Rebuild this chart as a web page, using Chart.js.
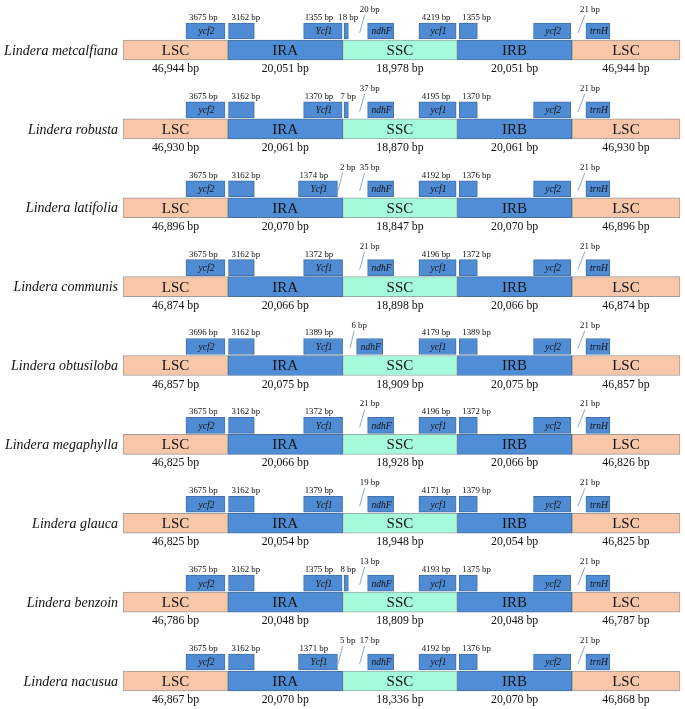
<!DOCTYPE html>
<html>
<head>
<meta charset="utf-8">
<script src="https://cdn.jsdelivr.net/npm/chart.js@4.4.1/dist/chart.umd.min.js"></script>
<style>
  html, body { margin: 0; padding: 0; background: #fff; }
  #wrap { width: 685px; height: 709px; }
</style>
</head>
<body>
<div id="wrap"><canvas id="irChart" width="685" height="709"></canvas></div>
<script>
// species, top to bottom
const species = ["Lindera metcalfiana", "Lindera robusta", "Lindera latifolia", "Lindera communis",
  "Lindera obtusiloba", "Lindera megaphylla", "Lindera glauca", "Lindera benzoin", "Lindera nacusua"];
const regionNames = ["LSC", "IRA", "SSC", "IRB", "LSC"];

// region lengths (bp)
const lscA = [46944, 46930, 46896, 46874, 46857, 46825, 46825, 46786, 46867];
const ira  = [20051, 20061, 20070, 20066, 20075, 20066, 20054, 20048, 20070];
const ssc  = [18978, 18870, 18847, 18898, 18909, 18928, 18948, 18809, 18336];
const irb  = [20051, 20061, 20070, 20066, 20075, 20066, 20054, 20048, 20070];
const lscB = [46944, 46930, 46896, 46874, 46857, 46826, 46825, 46787, 46868];

// genes at the junctions (bp)
const ycf2InLsc   = [3675, 3675, 3675, 3675, 3696, 3675, 3675, 3675, 3675];
const ycf2InIra   = [3162, 3162, 3162, 3162, 3162, 3162, 3162, 3162, 3162];
const ycf1InIra   = [1355, 1370, 1374, 1372, 1389, 1372, 1379, 1375, 1371];
const ycf1IntoSsc = [18, 7, 0, 0, 0, 0, 0, 8, 0];   // ycf1 running over into SSC
const ycf1GapSsc  = [0, 0, 2, 0, 0, 0, 0, 0, 5];    // ycf1 stopping short of SSC
const ndhFGap     = [20, 37, 35, 21, 6, 21, 19, 13, 17];
const ycf1InSsc   = [4219, 4195, 4192, 4196, 4179, 4196, 4171, 4193, 4192];
const ycf1InIrb   = [1355, 1370, 1376, 1372, 1389, 1372, 1379, 1375, 1376];
const trnHGap     = [21, 21, 21, 21, 21, 21, 21, 21, 21];

const regionLengths = [lscA, ira, ssc, irb, lscB];

// schematic layout, x in "region units" (one region = one unit)
const LAYOUT = {
  lscLeft: 0.085, lscRight: 4.942,
  ycf2Lsc: [0.634, 0.974], ycf2Ira: [1.005, 1.23],
  ycf1IraWidth: 0.34, ycf1GapEnd: 1.955, spill: [2.012, 2.05],
  ndhF: [2.218, 2.445], ndhFNear: [2.122, 2.35],
  ycf1Ssc: [2.665, 2.99], ycf1Irb: [3.017, 3.175],
  ycf2Irb: [3.665, 3.99], trnH: [4.122, 4.331]
};
const GENE_Y = 0.241; // gene boxes sit above the junction bar (y units)

const regionFill = { LSC: "#F8C6A8", IRA: "#4F8ED7", SSC: "#A6FADC", IRB: "#4F8ED7" };
const regionEdge = { LSC: "#A09C9A", IRA: "#4A6E9C", SSC: "#98AFA8", IRB: "#4A6E9C" };
const SERIF = "'Liberation Serif', 'Times New Roman', serif";

const rows = species.map((_, i) => i);
const regionStarts = [LAYOUT.lscLeft, 1, 2, 3, 4];
const regionEnds = [1, 2, 3, 4, LAYOUT.lscRight];

const regionDatasets = regionNames.map((name, k) => ({
  label: name,
  data: rows.map(i => ({ x: [regionStarts[k], regionEnds[k]], y: i, row: i })),
  backgroundColor: regionFill[name],
  borderColor: regionEdge[name],
  borderWidth: 1,
  borderSkipped: false,
  barThickness: 20
}));

function ycf1Span(i) {
  if (ycf1GapSsc[i] > 0) return [LAYOUT.ycf1GapEnd - LAYOUT.ycf1IraWidth, LAYOUT.ycf1GapEnd];
  if (ycf1IntoSsc[i] > 0) return [2 - LAYOUT.ycf1IraWidth, 1.995];
  return [2 - LAYOUT.ycf1IraWidth, 2];
}

const genes = [
  { name: "ycf2", span: () => LAYOUT.ycf2Lsc, top: i => ycf2InLsc[i] + " bp" },
  { name: "", span: () => LAYOUT.ycf2Ira, top: i => ycf2InIra[i] + " bp" },
  { name: "Ycf1", span: ycf1Span, top: i => ycf1InIra[i] + " bp", inset: 1 },
  { name: "", span: () => LAYOUT.spill, top: i => ycf1IntoSsc[i] + " bp", only: i => ycf1IntoSsc[i] > 0, centred: true },
  { name: "ndhF", span: i => ndhFGap[i] < 10 ? LAYOUT.ndhFNear : LAYOUT.ndhF },
  { name: "ycf1", span: () => LAYOUT.ycf1Ssc, top: i => ycf1InSsc[i] + " bp" },
  { name: "", span: () => LAYOUT.ycf1Irb, top: i => ycf1InIrb[i] + " bp" },
  { name: "ycf2", span: () => LAYOUT.ycf2Irb },
  { name: "trnH", span: () => LAYOUT.trnH }
];

const geneDatasets = genes.map(g => ({
  label: g.name || "part",
  data: rows.filter(i => !g.only || g.only(i)).map(i => ({ x: g.span(i), y: i - GENE_Y, row: i })),
  backgroundColor: "#4F8CD3",
  borderColor: "#4271AC",
  borderWidth: 1,
  borderSkipped: false,
  barThickness: 16
}));

// slash-marked distances: values, x at top, x at bottom
const slashes = [
  { values: ycf1GapSsc, top: () => 2.0, bottom: () => 1.96 },
  { values: ndhFGap, top: i => ndhFGap[i] < 10 ? 2.1 : 2.192, bottom: i => ndhFGap[i] < 10 ? 2.065 : 2.148 },
  { values: trnHGap, top: () => 4.113, bottom: () => 4.052 }
];

const junctionLabels = {
  id: "junctionLabels",
  afterDatasetsDraw(chart) {
    const ctx = chart.ctx;
    const xs = chart.scales.x, ys = chart.scales.y;
    ctx.save();
    ctx.fillStyle = "#111";

    rows.forEach(i => {
      const c = ys.getPixelForValue(i);
      // species name
      ctx.font = "italic 14px " + SERIF;
      ctx.textAlign = "right";
      ctx.textBaseline = "middle";
      ctx.fillText(species[i], xs.getPixelForValue(LAYOUT.lscLeft) - 5, c + 1);

      // region names and lengths
      regionNames.forEach((name, k) => {
        const mid = (xs.getPixelForValue(regionStarts[k]) + xs.getPixelForValue(regionEnds[k])) / 2;
        ctx.textAlign = "center";
        ctx.font = "15px " + SERIF;
        ctx.fillText(name, mid, c + 1);
        ctx.font = "11.8px " + SERIF;
        ctx.fillText(regionLengths[k][i].toLocaleString("en-US") + " bp", mid, c + 19);
      });

      // slash distances
      ctx.strokeStyle = "#7592B2";
      ctx.lineWidth = 0.8;
      slashes.forEach(s => {
        const v = s.values[i];
        if (!v) return;
        const xt = xs.getPixelForValue(s.top(i)), xb = xs.getPixelForValue(s.bottom(i));
        ctx.beginPath();
        ctx.moveTo(xt, c - 35);
        ctx.lineTo(xb, c - 17);
        ctx.stroke();
        ctx.font = "8.8px " + SERIF;
        ctx.textAlign = "center";
        ctx.textBaseline = "alphabetic";
        ctx.fillText(v + " bp", xt + 5, c - 38);
        ctx.textBaseline = "middle";
      });
    });

    // gene names inside boxes and sizes above them
    genes.forEach((g, d) => {
      const meta = chart.getDatasetMeta(regionDatasets.length + d);
      meta.data.forEach((el, j) => {
        const i = chart.data.datasets[regionDatasets.length + d].data[j].row;
        const left = Math.min(el.x, el.base), right = Math.max(el.x, el.base);
        if (g.name) {
          ctx.font = "italic 9.5px " + SERIF;
          ctx.textAlign = "center";
          ctx.textBaseline = "middle";
          ctx.fillText(g.name, (left + right) / 2 + 1, el.y + 1);
        }
        if (g.top) {
          ctx.font = "8.8px " + SERIF;
          ctx.textBaseline = "alphabetic";
          if (g.centred) {
            ctx.textAlign = "center";
            ctx.fillText(g.top(i), (left + right) / 2 + 2, el.y - 11);
          } else {
            ctx.textAlign = "left";
            ctx.fillText(g.top(i), left + (g.inset !== undefined ? g.inset : 3), el.y - 11);
          }
        }
      });
    });
    ctx.restore();
  }
};

new Chart(document.getElementById("irChart"), {
  type: "bar",
  data: { datasets: regionDatasets.concat(geneDatasets) },
  options: {
    indexAxis: "y",
    responsive: false,
    animation: false,
    layout: { padding: 0 },
    datasets: { bar: { grouped: false } },
    scales: {
      x: { type: "linear", min: -0.988, max: 4.986, offset: false, display: false },
      y: { type: "linear", min: -0.634, max: 8.355, offset: false, reverse: true, display: false }
    },
    plugins: { legend: { display: false }, tooltip: { enabled: false } }
  },
  plugins: [junctionLabels]
});
</script>
</body>
</html>
